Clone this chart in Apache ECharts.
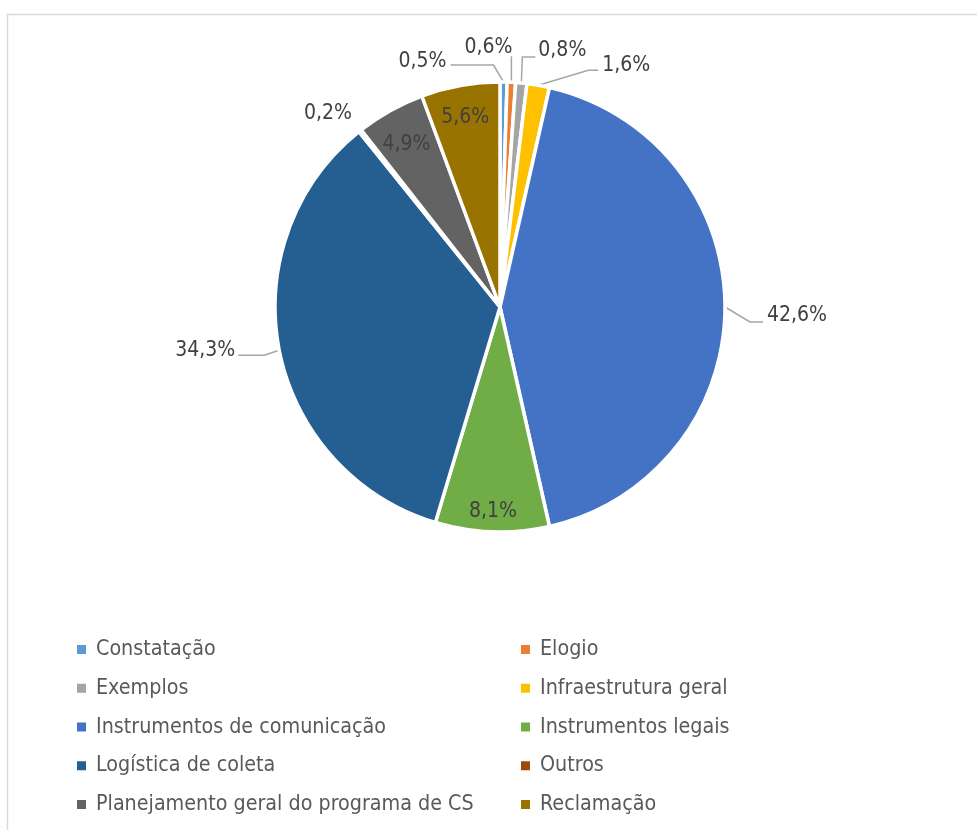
<!DOCTYPE html>
<html>
<head>
<meta charset="utf-8">
<script src="https://cdn.jsdelivr.net/npm/echarts@6/dist/echarts.min.js"></script>
<style>
  html, body { margin: 0; padding: 0; background: #fff; }
  #chart { width: 977px; height: 830px; }
</style>
</head>
<body>
<div id="chart"></div>
<script>
// Categories and their shares (%)
const categories = [
  'Constatação',
  'Elogio',
  'Exemplos',
  'Infraestrutura geral',
  'Instrumentos de comunicação',
  'Instrumentos legais',
  'Logística de coleta',
  'Outros',
  'Planejamento geral do programa de CS',
  'Reclamação'
];
const shares = [0.5, 0.6, 0.8, 1.6, 42.6, 8.1, 34.3, 0.2, 4.9, 5.6];
const sliceColors = [
  '#5B9BD5', '#ED7D31', '#A5A5A5', '#FFC000', '#4472C4',
  '#70AD47', '#255E91', '#9E480E', '#636363', '#997300'
];
// Slices whose labels sit inside, near the rim
const insideLabels = ['Instrumentos legais', 'Planejamento geral do programa de CS', 'Reclamação'];

const FONT = '"DejaVu Sans Condensed", "DejaVu Sans", sans-serif';
const LABEL_SIZE = 21;
const LEGEND_SIZE = 21.3;
const CX = 500, CY = 307, R = 225;

const chart = echarts.init(document.getElementById('chart'), null, { renderer: 'canvas' });

const pieData = categories.map((name, i) => {
  const inside = insideLabels.includes(name);
  return {
    name,
    value: shares[i],
    itemStyle: { color: sliceColors[i] },
    label: { position: inside ? 'inside' : 'outside' },
    labelLine: { show: !inside && name !== 'Outros' }
  };
});

// Where each outside label goes, relative to the rim point of its slice (a),
// plus the leader line path from that rim point.
function outsideLabel(name, a) {
  const [ax, ay] = a;
  switch (name) {
    case 'Constatação':
      return { x: ax - 57, y: ay - 20, align: 'right',
               pts: [[ax, ay], [ax - 10, ay - 17], [ax - 53, ay - 17]] };
    case 'Elogio':
      return { x: ax - 23, y: ay - 35, align: 'center',
               pts: [[ax, ay], [ax, ay - 26]] };
    case 'Exemplos':
      return { x: ax + 17, y: ay - 32, align: 'left',
               pts: [[ax, ay], [ax + 1, ay - 26], [ax + 14, ay - 26]] };
    case 'Infraestrutura geral':
      return { x: ax + 64, y: ay - 20, align: 'left',
               pts: [[ax, ay], [ax + 50, ay - 15], [ax + 60, ay - 15]] };
    case 'Instrumentos de comunicação':
      return { x: ax + 42, y: ay + 9, align: 'left',
               pts: [[ax, ay], [ax + 25, ay + 15], [ax + 38, ay + 15]] };
    case 'Logística de coleta':
      return { x: ax - 44, y: ay, align: 'right',
               pts: [[ax, ay], [ax - 15, ay + 5], [ax - 41, ay + 5]] };
    case 'Outros':
      return { x: ax - 32, y: ay - 17, align: 'center', pts: null };
  }
  return null;
}

const leftCol = categories.filter((_, i) => i % 2 === 0);
const rightCol = categories.filter((_, i) => i % 2 === 1);

const legendBase = {
  orient: 'vertical',
  top: 639,
  padding: 0,
  icon: 'rect',
  itemWidth: 9,
  itemHeight: 9,
  itemGap: 17.75,
  itemStyle: { borderWidth: 0 },
  textStyle: {
    fontFamily: FONT, fontSize: LEGEND_SIZE, lineHeight: 21, color: '#595959',
    padding: [0, 0, 0, 5]
  }
};

chart.setOption({
  animation: false,
  backgroundColor: '#fff',
  graphic: [{
    type: 'rect',
    shape: { x: 7.5, y: 14.5, width: 1000, height: 900 },
    style: { fill: 'none', stroke: '#d9d9d9', lineWidth: 1.5 },
    silent: true
  }],
  legend: [
    Object.assign({}, legendBase, { left: 77, data: leftCol }),
    Object.assign({}, legendBase, { left: 521, data: rightCol })
  ],
  series: [{
    type: 'pie',
    center: [CX, CY],
    radius: [0, R],
    startAngle: 90,
    clockwise: true,
    avoidLabelOverlap: false,
    itemStyle: { borderColor: '#fff', borderWidth: 3.5 },
    label: {
      formatter: p => String(p.value).replace('.', ',') + '%',
      fontFamily: FONT,
      fontSize: LABEL_SIZE,
      color: '#404040'
    },
    labelLine: {
      length: 20,
      length2: 14,
      lineStyle: { color: '#a6a6a6', width: 1.5 }
    },
    labelLayout: function (params) {
      const name = categories[params.dataIndex];
      const r = params.labelRect;
      const lx = r.x + r.width / 2, ly = r.y + r.height / 2;
      if (insideLabels.includes(name)) {
        // slide the label outward until its farthest corner is just inside the rim
        const dx = lx - CX, dy = ly - CY;
        const d = Math.sqrt(dx * dx + dy * dy) || 1;
        const ux = dx / d, uy = dy / d;
        const hw = r.width / 2, hh = r.height / 2;
        const b = Math.abs(ux) * hw + Math.abs(uy) * hh;
        const lim = R - 12;
        const c = hw * hw + hh * hh - lim * lim;
        const t = -b + Math.sqrt(b * b - c);
        // digits sit high in their line box, so nudge the text down a little
        return { dx: ux * (t - d), dy: uy * (t - d) + 4.5 };
      }
      const anchor = params.labelLinePoints ? params.labelLinePoints[0] : [lx, ly];
      const o = outsideLabel(name, anchor);
      if (!o) return {};
      const out = { x: o.x, y: o.y, align: o.align, verticalAlign: 'middle' };
      if (o.pts) out.labelLinePoints = o.pts;
      return out;
    },
    data: pieData
  }]
});
</script>
</body>
</html>
